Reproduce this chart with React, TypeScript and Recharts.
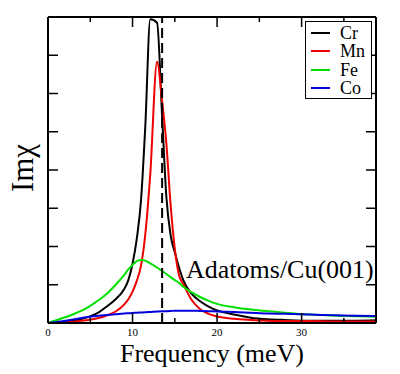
import React from "react";
import { LineChart, Line, XAxis, YAxis, ReferenceLine, Legend } from "recharts";

const frequency = [0, 1.5, 3, 4.5, 6, 7, 8, 9, 9.5, 10, 10.5, 11, 11.5, 12.1, 12.9, 13.5, 14, 14.5, 15, 15.5, 16, 17, 18, 19, 20, 22, 24, 26, 28, 31, 34, 36.5, 38.8];
const crValues = [0, 0.02, 0.06, 0.14, 0.28, 0.44, 0.62, 0.88, 1.12, 1.55, 2.2, 3.2, 5.1, 7.94, 7.85, 5.4, 3.3, 2.3, 1.85, 1.45, 1.12, 0.76, 0.57, 0.43, 0.33, 0.22, 0.14, 0.1, 0.08, 0.06, 0.06, 0.06, 0.07];
const mnValues = [0, 0.01, 0.03, 0.07, 0.13, 0.2, 0.3, 0.48, 0.62, 0.82, 1.1, 1.5, 2.3, 3.9, 6.83, 5.8, 4.7, 3.1, 1.94, 1.25, 1.02, 0.6, 0.36, 0.24, 0.17, 0.11, 0.08, 0.06, 0.05, 0.05, 0.04, 0.04, 0.04];
const feValues = [0, 0.11, 0.23, 0.38, 0.6, 0.77, 1.0, 1.25, 1.4, 1.52, 1.62, 1.65, 1.63, 1.56, 1.45, 1.36, 1.28, 1.2, 1.12, 1.05, 0.95, 0.8, 0.68, 0.58, 0.5, 0.41, 0.35, 0.31, 0.27, 0.22, 0.19, 0.175, 0.165];
const coValues = [0, 0.04, 0.09, 0.15, 0.19, 0.21, 0.23, 0.25, 0.255, 0.26, 0.27, 0.275, 0.28, 0.29, 0.3, 0.305, 0.31, 0.315, 0.32, 0.32, 0.32, 0.32, 0.315, 0.31, 0.3, 0.29, 0.27, 0.25, 0.24, 0.22, 0.2, 0.19, 0.18];

const seriesNames = ["Cr", "Mn", "Fe", "Co"];
const seriesColors = ["#000000", "#ee0000", "#00e000", "#0000dd"];
const xTicks = [0, 5, 10, 15, 20, 25, 30, 35];
const yTicks = [0, 1, 2, 3, 4, 5, 6, 7, 8];
const dashedLineX = 13.5;
const annotation = "Adatoms/Cu(001)";
const xLabel = "Frequency (meV)";
const yLabel = "Imχ";

const data = frequency.map((f, i) => ({
  f,
  Cr: crValues[i],
  Mn: mnValues[i],
  Fe: feValues[i],
  Co: coValues[i],
}));

const FONT = "'Liberation Serif', 'Times New Roman', serif";

const BottomTick = (props: any) => {
  const { x, y, payload } = props;
  const major = payload.value % 10 === 0;
  return (
    <g>
      <line x1={x} y1={y} x2={x} y2={y - (major ? 10 : 5)} stroke="#000" strokeWidth={1.5} />
      {major && (
        <text x={x} y={y + 13} textAnchor="middle" fontSize={11} fontFamily={FONT} fill="#000">
          {payload.value}
        </text>
      )}
    </g>
  );
};

const TopTick = (props: any) => {
  const { x, y, payload } = props;
  const major = payload.value % 10 === 0;
  return <line x1={x} y1={y} x2={x} y2={y + (major ? 10 : 5)} stroke="#000" strokeWidth={1.5} />;
};

const LeftTick = (props: any) => {
  const { x, y } = props;
  return <line x1={x} y1={y} x2={x + 10} y2={y} stroke="#000" strokeWidth={1.5} />;
};

const RightTick = (props: any) => {
  const { x, y } = props;
  return <line x1={x} y1={y} x2={x - 10} y2={y} stroke="#000" strokeWidth={1.5} />;
};

const LegendBox = () => (
  <div
    style={{
      border: "1.5px solid #000",
      background: "#fff",
      width: 67,
      height: 78,
      boxSizing: "border-box",
      paddingTop: 2,
    }}
  >
    {seriesNames.map((n, i) => (
      <div key={n} style={{ display: "flex", alignItems: "center", height: 18.3 }}>
        <div style={{ width: 19, height: 2, background: seriesColors[i], marginLeft: 5 }} />
        <span style={{ marginLeft: 10, fontFamily: FONT, fontSize: 18, lineHeight: "18px", color: "#000" }}>{n}</span>
      </div>
    ))}
  </div>
);

export default function App() {
  return (
    <div style={{ position: "absolute", left: 0, top: 0, width: 400, height: 374, background: "#fff" }}>
      <LineChart width={400} height={374} data={data} margin={{ top: 16, right: 23, bottom: 21, left: 47 }}>
        <XAxis
          dataKey="f"
          type="number"
          domain={[0, 38.8]}
          ticks={xTicks}
          height={30}
          tickSize={0}
          tickMargin={0}
          tick={BottomTick}
          axisLine={{ stroke: "#000", strokeWidth: 2 }}
          tickLine={false}
          allowDataOverflow
        />
        <XAxis
          xAxisId="top"
          orientation="top"
          dataKey="f"
          type="number"
          domain={[0, 38.8]}
          ticks={xTicks}
          height={1}
          tickSize={0}
          tickMargin={0}
          tick={TopTick}
          axisLine={{ stroke: "#000", strokeWidth: 2 }}
          tickLine={false}
          allowDataOverflow
        />
        <YAxis
          type="number"
          domain={[0, 8]}
          ticks={yTicks}
          width={1}
          tickSize={0}
          tickMargin={0}
          tick={LeftTick}
          axisLine={{ stroke: "#000", strokeWidth: 2 }}
          tickLine={false}
          allowDataOverflow
        />
        <YAxis
          yAxisId="right"
          orientation="right"
          type="number"
          domain={[0, 8]}
          ticks={yTicks}
          width={1}
          tickSize={0}
          tickMargin={0}
          tick={RightTick}
          axisLine={{ stroke: "#000", strokeWidth: 2 }}
          tickLine={false}
          allowDataOverflow
        />
        {seriesNames.map((n, i) => (
          <Line
            key={n}
            dataKey={n}
            type="monotone"
            stroke={seriesColors[i]}
            strokeWidth={2}
            dot={false}
            isAnimationActive={false}
          />
        ))}
        <ReferenceLine x={dashedLineX} stroke="#000" strokeWidth={2} strokeDasharray="10 5" />
        <Legend
          layout="vertical"
          align="center"
          verticalAlign="middle"
          content={<LegendBox />}
          wrapperStyle={{ position: "absolute", left: 305, top: 21, width: 67, height: 78 }}
        />
      </LineChart>
      <svg width={400} height={374} style={{ position: "absolute", left: 0, top: 0, pointerEvents: "none" }}>
        <text x={186} y={278} fontSize={26} fontFamily={FONT} fill="#000">
          {annotation}
        </text>
        <text x={212} y={362} fontSize={26} fontFamily={FONT} fill="#000" textAnchor="middle">
          {xLabel}
        </text>
        <text x={33} y={168} fontSize={31} fontFamily={FONT} fill="#000" textAnchor="middle" transform="rotate(-90 33 168)">
          {yLabel}
        </text>
      </svg>
    </div>
  );
}
